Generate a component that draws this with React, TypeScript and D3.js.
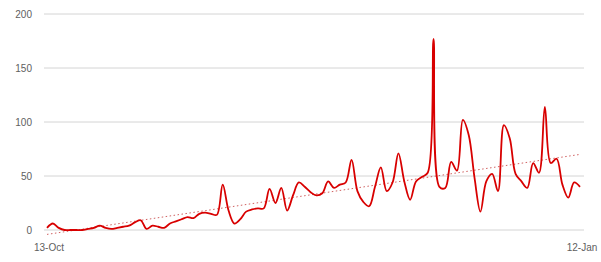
import { useEffect, useRef } from 'react';
import * as d3 from 'd3';

// Daily values, 13-Oct through 12-Jan
const values = [
  2, 6, 2, 0, 0, 0, 0, 1, 2, 4,
  2, 1, 2, 3, 4, 7, 9, 1, 4, 3,
  2, 6, 8, 10, 12, 11, 15, 16, 15, 14,
  42, 18, 6, 10, 17, 19, 20, 20, 38, 25,
  39, 18, 32, 44, 40, 35, 32, 34, 45, 39,
  42, 44, 65, 36, 26, 22, 40, 58, 36, 44,
  71, 45, 28, 45, 49, 53, 177, 40, 39, 63,
  55, 102, 88, 48, 17, 45, 52, 36, 97, 85,
  52, 45, 39, 62, 53, 114, 62, 66, 42, 30,
  44, 40,
];
const yTicks = [0, 50, 100, 150, 200];
const xLabels = ['13-Oct', '12-Jan'];

export default function App() {
  const svgRef = useRef<SVGSVGElement>(null);

  useEffect(() => {
    if (!svgRef.current) return;
    const svg = d3.select(svgRef.current);
    svg.selectAll('*').remove();

    const font = '"Liberation Sans", Arial, sans-serif';
    const x = d3.scaleLinear().domain([0, values.length - 1]).range([47, 580]);
    const y = d3.scaleLinear().domain([0, 200]).range([230, 14]);
    const gridX0 = 44, gridX1 = 584;

    // Gridlines
    svg.append('g').selectAll('line').data(yTicks).enter().append('line')
      .attr('x1', gridX0).attr('x2', gridX1)
      .attr('y1', d => y(d)).attr('y2', d => y(d))
      .attr('stroke', '#d4d4d4').attr('stroke-width', 1);

    // Y tick labels
    svg.append('g').selectAll('text').data(yTicks).enter().append('text')
      .attr('x', 32).attr('y', d => y(d) + 3.5)
      .attr('text-anchor', 'end')
      .attr('font-family', font).attr('font-size', 10)
      .attr('fill', '#606060')
      .text(d => d);

    // X labels at first and last point
    const xIdx = [0, values.length - 1];
    svg.append('g').selectAll('text').data(xLabels).enter().append('text')
      .attr('x', (_, i) => x(xIdx[i]) + 2).attr('y', 251)
      .attr('text-anchor', 'middle')
      .attr('font-family', font).attr('font-size', 10)
      .attr('fill', '#606060')
      .text(d => d);

    // Linear trendline
    const idx = values.map((_, i) => i);
    const mx = d3.mean(idx) as number, my = d3.mean(values) as number;
    const slope = d3.sum(idx, i => (i - mx) * (values[i] - my)) / d3.sum(idx, i => (i - mx) ** 2);
    const icpt = my - slope * mx;
    const ends = [0, values.length - 1];
    svg.append('line')
      .attr('x1', x(ends[0])).attr('y1', y(icpt + slope * ends[0]))
      .attr('x2', x(ends[1])).attr('y2', y(icpt + slope * ends[1]))
      .attr('stroke', '#d06060').attr('stroke-width', 1)
      .attr('stroke-dasharray', '1.5,2.5');

    // Series line
    const line = d3.line<number>().x((_, i) => x(i)).y(d => y(d)).curve(d3.curveCatmullRom);
    svg.append('path').datum(values).attr('d', line)
      .attr('fill', 'none').attr('stroke', '#d80000').attr('stroke-width', 1.8)
      .attr('stroke-linejoin', 'round');
  }, []);

  return (
    <svg ref={svgRef} width={601} height={262}
      style={{ position: 'absolute', left: 0, top: 0, background: '#fff' }} />
  );
}
